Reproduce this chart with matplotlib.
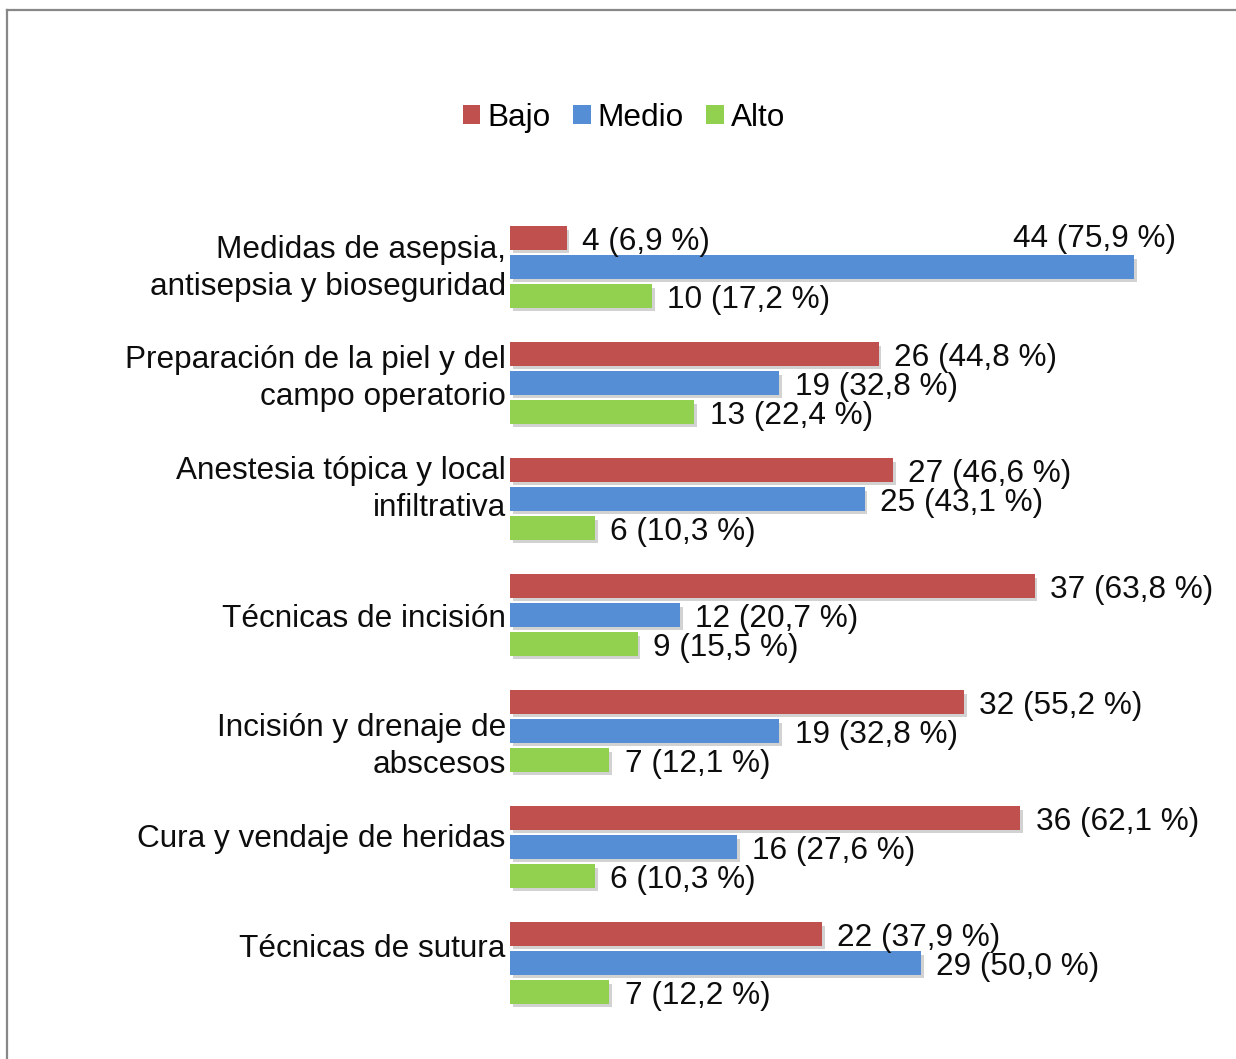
import matplotlib.pyplot as plt
import matplotlib.patheffects as pe
import matplotlib.transforms as mtransforms
from matplotlib.lines import Line2D
import numpy as np

plt.rcParams['font.family'] = ['Liberation Sans', 'DejaVu Sans']

# data
categorias = ['Medidas de asepsia,\nantisepsia y bioseguridad',
              'Preparación de la piel y del\ncampo operatorio',
              'Anestesia tópica y local\ninfiltrativa',
              'Técnicas de incisión',
              'Incisión y drenaje de\nabscesos',
              'Cura y vendaje de heridas',
              'Técnicas de sutura']
bajo = [4, 26, 27, 37, 32, 36, 22]
bajo_pct = [6.9, 44.8, 46.6, 63.8, 55.2, 62.1, 37.9]
medio = [44, 19, 25, 12, 19, 16, 29]
medio_pct = [75.9, 32.8, 43.1, 20.7, 32.8, 27.6, 50.0]
alto = [10, 13, 6, 9, 7, 6, 7]
alto_pct = [17.2, 22.4, 10.3, 15.5, 12.1, 10.3, 12.2]

series = [('Bajo', bajo, bajo_pct, '#C0504D'),
          ('Medio', medio, medio_pct, '#558ED5'),
          ('Alto', alto, alto_pct, '#92D050')]

# small vertical nudges (px) of the category labels, as placed in the original
label_shift = [5.5, 11.5, 16.5, 0, -8.5, 12, 18]

W, H = 1236, 1059
fig = plt.figure(figsize=(W / 100, H / 100), dpi=100)
ax = fig.add_axes([510 / W, 1 - 1021 / H, 709 / W, 812 / H])

y = np.arange(len(categorias))
step = 0.25
h = 0.2
shadow = [pe.SimplePatchShadow(offset=(2, -2.5), shadow_rgbFace='#808080', alpha=0.35), pe.Normal()]

for k, (name, vals, pcts, col) in enumerate(series):
    pos = y + (k - 1) * step
    bars = ax.barh(pos, vals, height=h, color=col, label=name)
    for b in bars:
        b.set_path_effects(shadow)
    for v, p, yy in zip(vals, pcts, pos):
        txt = '%d (%s %%)' % (v, ('%.1f' % p).replace('.', ','))
        if v > 40:
            # label too long to fit after the bar, moved above it
            ax.annotate(txt, (v, yy), xytext=(30, 23), textcoords='offset points',
                        ha='right', va='center_baseline', fontsize=22.7, color='#0d0d0d')
        else:
            ax.annotate(txt, (v, yy), xytext=(11, 0), textcoords='offset points',
                        ha='left', va='center_baseline', fontsize=22.7, color='#0d0d0d')

ax.set_xlim(0, 50)
ax.set_ylim(len(categorias) - 0.5, -0.5)
ax.set_yticks(y)
ax.set_yticklabels(categorias, fontsize=22.7, color='#0d0d0d', linespacing=1.3)
ax.tick_params(axis='y', length=0, pad=3)
for lab, d in zip(ax.get_yticklabels(), label_shift):
    lab.set_transform(lab.get_transform() +
                      mtransforms.ScaledTranslation(0, d / 100, fig.dpi_scale_trans))
ax.set_xticks([])
for s in ax.spines.values():
    s.set_visible(False)

leg = fig.legend(loc='center', bbox_to_anchor=(624 / W, 1 - 118 / H), ncol=3, frameon=False,
                 fontsize=22.7, handlelength=0.55, handleheight=0.55, handletextpad=0.22,
                 columnspacing=0.72)
for hd in leg.legend_handles:
    hd.set_path_effects([])

# chart border (partly outside the image)
fig.add_artist(Line2D([7 / W, 1], [1 - 10 / H, 1 - 10 / H], color='#888888', lw=1.6))
fig.add_artist(Line2D([7 / W, 7 / W], [0, 1 - 10 / H], color='#888888', lw=1.6))

fig.savefig('out.png', dpi=100)
